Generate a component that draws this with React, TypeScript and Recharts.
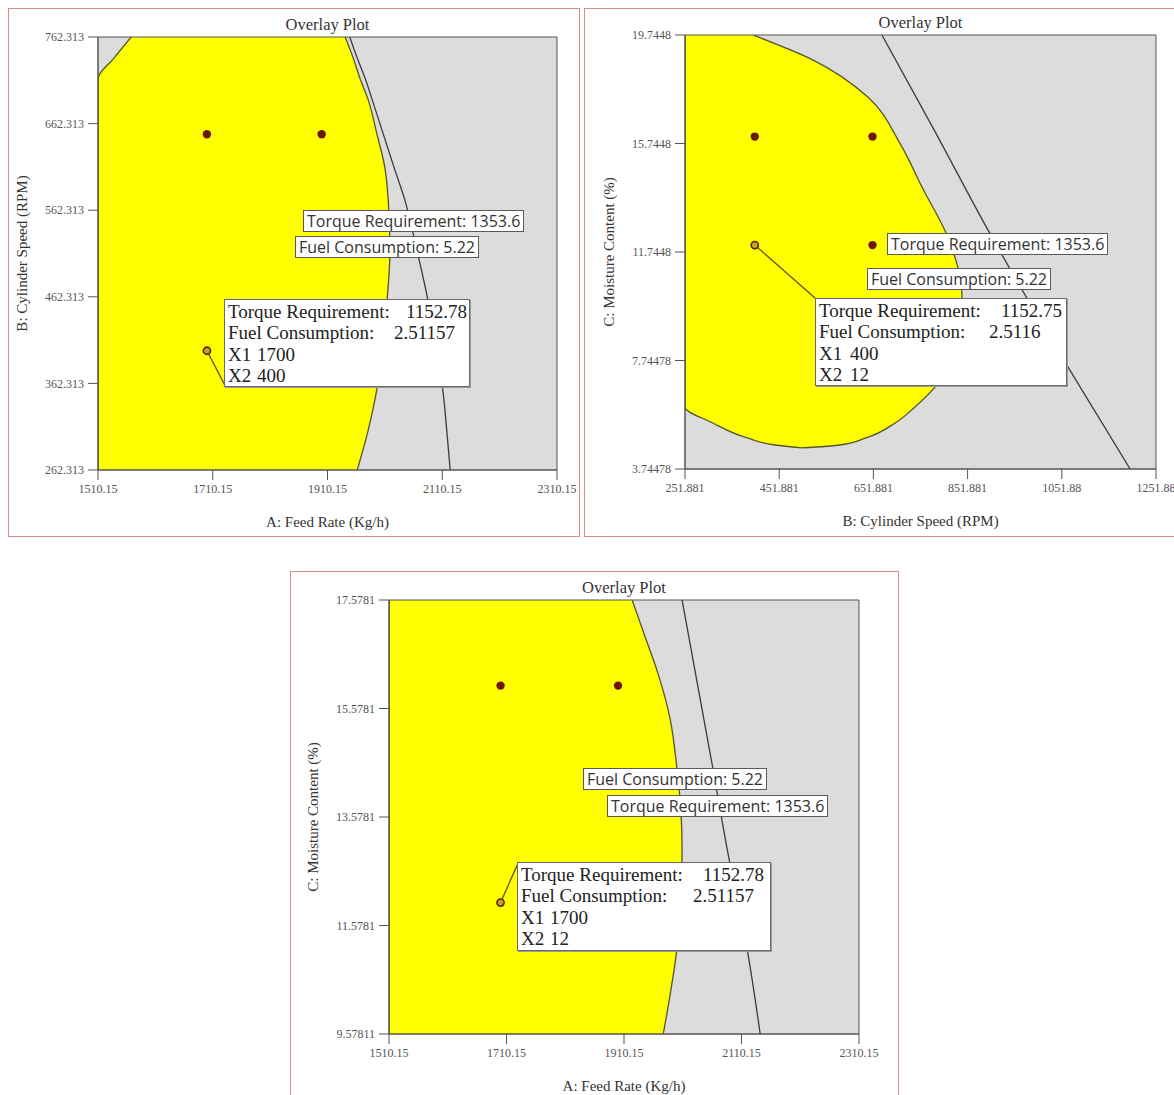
import React from "react";
import {
  ComposedChart,
  Area,
  Line,
  Scatter,
  XAxis,
  YAxis,
  CartesianGrid,
  ReferenceLine,
  ReferenceArea,
} from "recharts";

// ---------- tick labels, as printed ----------
const feedTickLabels = ["1510.15", "1710.15", "1910.15", "2110.15", "2310.15"];
const speedTickLabelsY = ["262.313", "362.313", "462.313", "562.313", "662.313", "762.313"];
const speedTickLabelsX = ["251.881", "451.881", "651.881", "851.881", "1051.88", "1251.88"];
const moistTickLabelsB = ["3.74478", "7.74478", "11.7448", "15.7448", "19.7448"];
const moistTickLabelsC = ["9.57811", "11.5781", "13.5781", "15.5781", "17.5781"];

// ---------- panel 1: A (feed rate) vs B (cylinder speed) ----------
const p1BandY = [762.313, 738, 714, 690, 651, 612, 574, 516, 459, 401, 355, 308, 262.313];
const p1BandLow = [1568, 1538, 1510.15, 1510.15, 1510.15, 1510.15, 1510.15, 1510.15, 1510.15, 1510.15, 1510.15, 1510.15, 1510.15];
const p1BandHigh = [1941, 1955, 1967, 1981, 1996, 2010, 2016, 2019, 2014, 2005, 1996, 1981, 1962];
const p1TorqueY = [762.313, 738, 714, 690, 651, 612, 574, 516, 459, 401, 355, 308, 262.313];
const p1TorqueX = [1949, 1962, 1976, 1988, 2007, 2026, 2045, 2066, 2085, 2099, 2111, 2118, 2124];
const p1PointsX = [1700, 1900];
const p1PointsY = [650, 650];
const p1Picked = { x: 1700, y: 400 };
const p1Box = [
  ["Torque Requirement:", "1152.78"],
  ["Fuel Consumption:", "2.51157"],
  ["X1", "1700"],
  ["X2", "400"],
];

// ---------- panel 2: B (cylinder speed) vs C (moisture) ----------
const p2BandY = [19.7448, 18.82, 17.46, 15.76, 14.14, 12.08, 10.16, 8.5, 6.77, 6.03, 5.44, 4.89, 4.63, 4.52];
const p2BandLow = [251.881, 251.881, 251.881, 251.881, 251.881, 251.881, 251.881, 251.881, 251.881, 251.881, 311, 384, 443, 500];
const p2BandHigh = [396, 524, 640, 708, 755, 815, 840, 829, 783, 740, 698, 636, 581, 500];
const p2TorqueY = [19.7448, 16.24, 12.56, 9.98, 7.39, 3.74478];
const p2TorqueX = [670, 781, 895, 980, 1069, 1197];
const p2PointsX = [400, 650, 650];
const p2PointsY = [16, 16, 12];
const p2Picked = { x: 400, y: 12 };
const p2Box = [
  ["Torque Requirement:", "1152.75"],
  ["Fuel Consumption:", "2.5116"],
  ["X1", "400"],
  ["X2", "12"],
];

// ---------- panel 3: A (feed rate) vs C (moisture) ----------
const p3BandY = [17.5781, 16.84, 16.29, 15.37, 14.5, 13.71, 12.97, 12.05, 11.13, 10.39, 9.57811];
const p3BandLow = [1510.15, 1510.15, 1510.15, 1510.15, 1510.15, 1510.15, 1510.15, 1510.15, 1510.15, 1510.15, 1510.15];
const p3BandHigh = [1924, 1948, 1966, 1989, 2000, 2007, 2009, 2006, 2000, 1990, 1977];
const p3TorqueY = [17.5781, 15.74, 14.44, 12.97, 11.13, 9.57811];
const p3TorqueX = [2009, 2040, 2062, 2086, 2120, 2142];
const p3PointsX = [1700, 1900];
const p3PointsY = [16, 16];
const p3Picked = { x: 1700, y: 12 };
const p3Box = [
  ["Torque Requirement:", "1152.78"],
  ["Fuel Consumption:", "2.51157"],
  ["X1", "1700"],
  ["X2", "12"],
];

const TORQUE_TAG = "Torque Requirement: 1353.6";
const FUEL_TAG = "Fuel Consumption: 5.22";

const SERIF = '"Liberation Serif", "Times New Roman", serif';
const SANS = '"Open Sans", "Noto Sans", sans-serif';
const GRAY = "#dcdcdc";
const YELLOW = "#ffff00";
const EDGE = "#55552a";
const AXIS = "#555555";

const toBand = (ys: number[], lo: number[], hi: number[]) =>
  ys.map((y, i) => ({ y, band: [lo[i], hi[i]] }));
const toLine = (ys: number[], xs: number[]) => ys.map((y, i) => ({ y, torque: xs[i] }));
const toPts = (xs: number[], ys: number[]) => xs.map((x, i) => ({ x, y: ys[i] }));

const DarkDot = (p: any) => <circle cx={p.cx} cy={p.cy} r={4.2} fill="#6e1600" />;
const PickedDot = (p: any) => (
  <circle cx={p.cx} cy={p.cy} r={3.6} fill="#c4a12c" stroke="#5a2600" strokeWidth={1.6} />
);

const tickStyle = { fill: "#555", fontSize: 12, fontFamily: SERIF };

function OverlayPanel(props: any) {
  const { place, xLabels, yLabels, xTitle, yTitle, band, torque, points, picked, leaderTo } = props;
  const xTicks = xLabels.map(Number);
  const yTicks = yLabels.map(Number);
  const xDom = [xTicks[0], xTicks[xTicks.length - 1]];
  const yDom = [yTicks[0], yTicks[yTicks.length - 1]];
  const fmt = (labels: string[], ticks: number[]) => (v: number) => {
    const i = ticks.indexOf(v);
    return i >= 0 ? labels[i] : String(v);
  };
  return (
    <div style={{ position: "absolute", left: place.left, top: place.top }}>
      <ComposedChart
        width={place.width}
        height={place.height}
        layout="vertical"
        margin={{ top: place.marginTop, right: place.marginRight, bottom: 0, left: 0 }}
      >
        <CartesianGrid horizontal={false} vertical={false} fill={GRAY} stroke="none" />
        <Area
          dataKey="band"
          data={band}
          type="monotone"
          fill={YELLOW}
          fillOpacity={1}
          stroke={EDGE}
          strokeWidth={1.3}
          isAnimationActive={false}
        />
        <Line
          dataKey="torque"
          data={torque}
          type="monotone"
          stroke="#3c3c3c"
          strokeWidth={1.3}
          dot={false}
          isAnimationActive={false}
        />
        <XAxis
          type="number"
          dataKey="x"
          domain={xDom}
          ticks={xTicks}
          tickFormatter={fmt(xLabels, xTicks)}
          allowDataOverflow
          interval={0}
          height={60}
          tickSize={10}
          tickMargin={4}
          tick={tickStyle}
          stroke={AXIS}
          label={{
            value: xTitle,
            position: "insideBottom",
            offset: 3,
            fill: "#333",
            fontSize: 15,
            fontFamily: SERIF,
          }}
        />
        <YAxis
          type="number"
          dataKey="y"
          domain={yDom}
          ticks={yTicks}
          tickFormatter={fmt(yLabels, yTicks)}
          allowDataOverflow
          reversed
          interval={0}
          width={90}
          tickSize={10}
          tickMargin={4}
          tick={tickStyle}
          stroke={AXIS}
          label={{
            value: yTitle,
            position: "insideLeft",
            offset: 14,
            angle: -90,
            fill: "#333",
            fontSize: 15,
            fontFamily: SERIF,
            style: { textAnchor: "middle" },
          }}
        />
        <ReferenceArea
          x1={xDom[0]}
          x2={xDom[1]}
          y1={yDom[0]}
          y2={yDom[1]}
          fill="none"
          fillOpacity={0}
          stroke={AXIS}
          strokeWidth={1}
          label={{
            value: "Overlay Plot",
            position: "top",
            offset: 7,
            fill: "#333",
            fontSize: 16.5,
            fontFamily: SERIF,
          }}
        />
        <ReferenceLine segment={[picked, leaderTo]} stroke="#6a5a10" strokeWidth={1.4} />
        <Scatter data={points} shape={DarkDot} isAnimationActive={false} />
        <Scatter data={[picked]} shape={PickedDot} isAnimationActive={false} />
      </ComposedChart>
    </div>
  );
}

function Tag({ left, top, text }: any) {
  return (
    <div
      style={{
        position: "absolute",
        left,
        top,
        background: "#fff",
        border: "1px solid #5a5a5a",
        fontFamily: SANS,
        fontSize: 16,
        lineHeight: "20px",
        padding: "0 3px",
        color: "#333",
        whiteSpace: "nowrap",
      }}
    >
      {text}
    </div>
  );
}

function InfoBox({ left, top, width, height, rows, cols }: any) {
  return (
    <div
      style={{
        position: "absolute",
        left,
        top,
        width,
        height,
        boxSizing: "border-box",
        background: "#fff",
        border: "1px solid #6a6a6a",
        boxShadow: "1px 1px 0 #9a9a9a",
        fontFamily: SERIF,
        fontSize: 19,
        color: "#222",
      }}
    >
      {rows.map((r: string[], i: number) => (
        <div key={i} style={{ position: "absolute", top: 1 + i * 21.3, left: 3, lineHeight: "21.3px", whiteSpace: "nowrap" }}>
          {r[0]}
          <span style={{ position: "absolute", left: cols[i] - 3 }}>{r[1]}</span>
        </div>
      ))}
    </div>
  );
}

const frame = (left: number, top: number, width: number, height: number): React.CSSProperties => ({
  position: "absolute",
  left,
  top,
  width,
  height,
  border: "1.5px solid #d98c8c",
  boxSizing: "border-box",
});

export default function App() {
  return (
    <div
      style={{
        position: "absolute",
        left: 0,
        top: 0,
        width: 1174,
        height: 1095,
        overflow: "hidden",
        background: "#fff",
      }}
    >
      <div style={frame(8, 8, 572, 529)} />
      <div style={frame(584, 8, 620, 529)} />
      <div style={frame(290, 571, 609, 560)} />

      <OverlayPanel
        place={{ left: 8, top: 0, width: 571, height: 530, marginTop: 37, marginRight: 22 }}
        xLabels={feedTickLabels}
        yLabels={speedTickLabelsY}
        xTitle="A: Feed Rate (Kg/h)"
        yTitle="B: Cylinder Speed (RPM)"
        band={toBand(p1BandY, p1BandLow, p1BandHigh)}
        torque={toLine(p1TorqueY, p1TorqueX)}
        points={toPts(p1PointsX, p1PointsY)}
        picked={p1Picked}
        leaderTo={{ x: 1733, y: 358 }}
      />
      <OverlayPanel
        place={{ left: 595, top: 0, width: 579, height: 529, marginTop: 35, marginRight: 18 }}
        xLabels={speedTickLabelsX}
        yLabels={moistTickLabelsB}
        xTitle="B: Cylinder Speed (RPM)"
        yTitle="C: Moisture Content (%)"
        band={toBand(p2BandY, p2BandLow, p2BandHigh)}
        torque={toLine(p2TorqueY, p2TorqueX)}
        points={toPts(p2PointsX, p2PointsY)}
        picked={p2Picked}
        leaderTo={{ x: 528, y: 10.05 }}
      />
      <OverlayPanel
        place={{ left: 299, top: 563, width: 585, height: 531, marginTop: 37, marginRight: 25 }}
        xLabels={feedTickLabels}
        yLabels={moistTickLabelsC}
        xTitle="A: Feed Rate (Kg/h)"
        yTitle="C: Moisture Content (%)"
        band={toBand(p3BandY, p3BandLow, p3BandHigh)}
        torque={toLine(p3TorqueY, p3TorqueX)}
        points={toPts(p3PointsX, p3PointsY)}
        picked={p3Picked}
        leaderTo={{ x: 1730, y: 12.73 }}
      />

      <Tag left={303} top={210} text={TORQUE_TAG} />
      <Tag left={295} top={236} text={FUEL_TAG} />
      <InfoBox left={224} top={299} width={246} height={88} rows={p1Box} cols={[181, 169, 32, 32]} />

      <Tag left={887} top={233} text={TORQUE_TAG} />
      <Tag left={867} top={268} text={FUEL_TAG} />
      <InfoBox left={815} top={298} width={252} height={88} rows={p2Box} cols={[185, 173, 34, 34]} />

      <Tag left={583} top={768} text={FUEL_TAG} />
      <Tag left={607} top={795} text={TORQUE_TAG} />
      <InfoBox left={517} top={862} width={254} height={89} rows={p3Box} cols={[185, 175, 32, 32]} />
    </div>
  );
}
